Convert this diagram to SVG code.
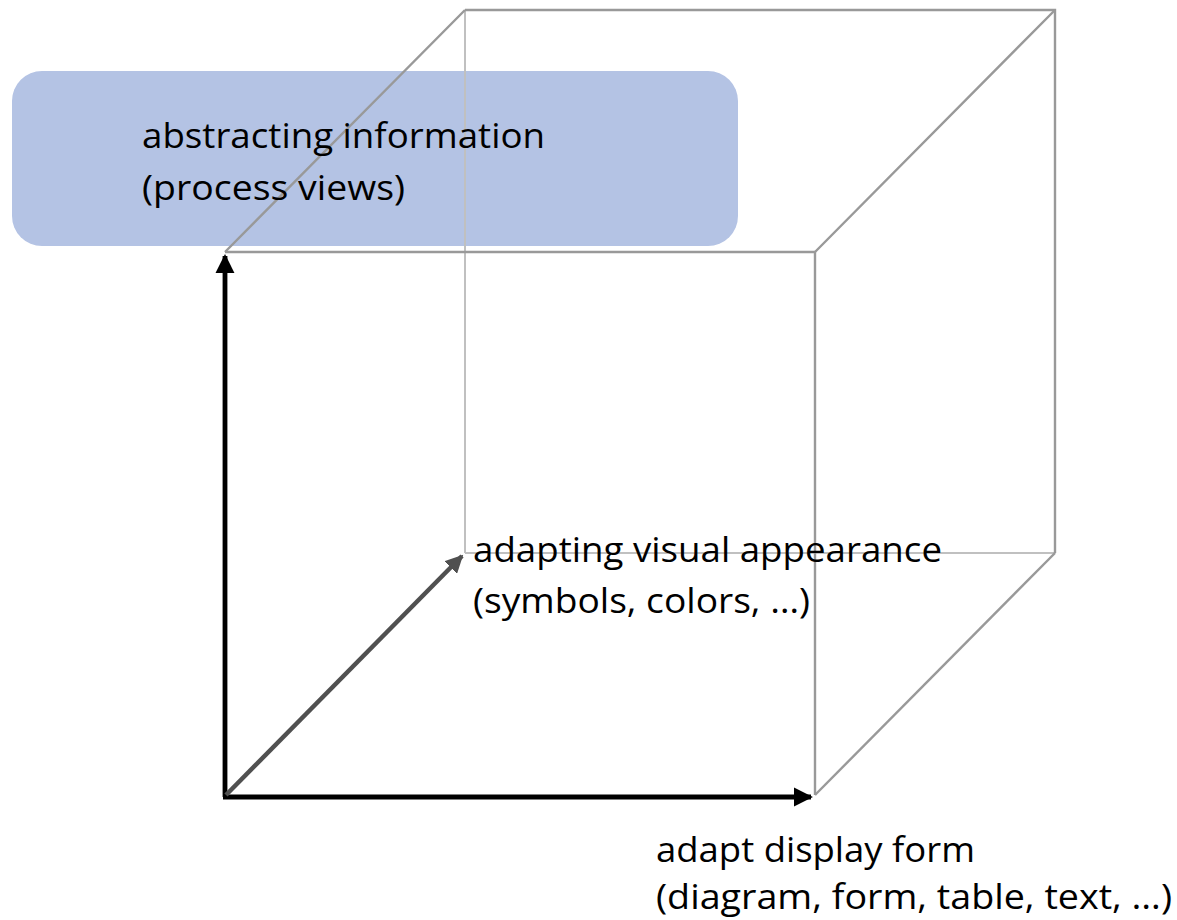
<svg xmlns="http://www.w3.org/2000/svg" width="1177" height="920" viewBox="0 0 1177 920">
<style>
.t{font-family:"Open Sans","Noto Sans",sans-serif;font-size:35px;fill:#000}
.e{stroke:#999;stroke-width:2.4;fill:none}
.h{stroke:#c0c0c0;stroke-width:2;fill:none}
</style>
<defs>
<marker id="ab" viewBox="0 0 10 10" refX="9" refY="5" markerWidth="4" markerHeight="4" orient="auto"><path d="M0,0L10,5L0,10z" fill="#000"/></marker>
<marker id="ag" viewBox="0 0 10 10" refX="9" refY="5" markerWidth="4" markerHeight="4" orient="auto"><path d="M0,0L10,5L0,10z" fill="#505050"/></marker>
</defs>
<rect width="1177" height="920" fill="#fff"/>
<g id="box-abstracting">
<rect x="12" y="71" width="726" height="175" rx="30" fill="#b4c3e4"/>
</g>
<g id="cube">
<line class="h" x1="465" y1="10" x2="465" y2="553"/>
<line class="h" x1="465" y1="553" x2="1055" y2="553"/>
<path class="e" d="M465,10H1055V553"/>
<path class="e" d="M225,252L465,10M815,252L1055,10"/>
<line class="e" x1="815" y1="795" x2="1055" y2="553"/>
<path class="e" d="M225,252H815V795"/>
</g>
<g id="connectors">
<line x1="225" y1="797" x2="225" y2="256" stroke="#000" stroke-width="4.8" marker-end="url(#ab)"/>
<line x1="223" y1="797" x2="811" y2="797" stroke="#000" stroke-width="4.8" marker-end="url(#ab)"/>
<line x1="226" y1="795" x2="462" y2="556" stroke="#505050" stroke-width="4.5" marker-end="url(#ag)"/>
</g>
<g id="label-abstracting">
<text class="t" x="142" y="148" textLength="403" lengthAdjust="spacingAndGlyphs">abstracting information</text>
<text class="t" x="142" y="200" textLength="263" lengthAdjust="spacingAndGlyphs">(process views)</text>
</g>
<g id="label-visual">
<text class="t" x="473" y="562" textLength="469" lengthAdjust="spacingAndGlyphs">adapting visual appearance</text>
<text class="t" x="473" y="613" textLength="337" lengthAdjust="spacingAndGlyphs">(symbols, colors, …)</text>
</g>
<g id="label-display">
<text class="t" x="656" y="862" textLength="319" lengthAdjust="spacingAndGlyphs">adapt display form</text>
<text class="t" x="656" y="909" textLength="516" lengthAdjust="spacingAndGlyphs">(diagram, form, table, text, …)</text>
</g>
</svg>
